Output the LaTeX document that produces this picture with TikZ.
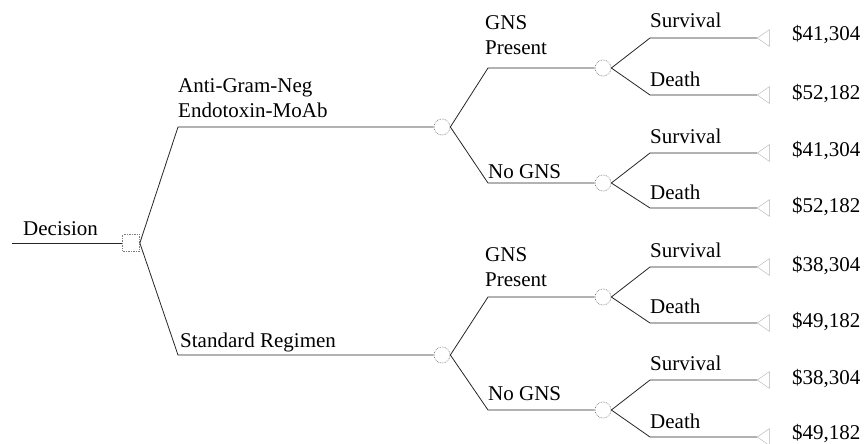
\documentclass[tikz,border=0pt]{standalone}
\usepackage{fontspec}
\setmainfont{Liberation Serif}
\usetikzlibrary{shapes.geometric}
\tikzset{
  decbox/.style={draw=gray,densely dotted,line width=0.7pt,minimum size=17pt,inner sep=0},
  chance/.style={circle,draw=gray,densely dotted,line width=0.7pt,minimum size=16pt,inner sep=0},
  endnode/.style={isosceles triangle,shape border rotate=180,isosceles triangle apex angle=70,
    draw=gray!60,minimum height=12pt,minimum width=12pt,inner sep=0,anchor=apex},
  lbl/.style={anchor=base west,inner sep=0,font=\fontsize{21}{25}\selectfont},
  lbltwo/.style={anchor=south west,inner sep=0,align=left,font=\fontsize{21}{25}\selectfont},
  branch/.style={draw=black!85,line width=0.8pt}
}

\begin{document}
\begin{tikzpicture}[x=1pt,y=-1pt]
\useasboundingbox (0,0) rectangle (864,444);
\coordinate (start) at (12,243);
\coordinate (k1) at (178,0);
\coordinate (k2) at (488,0);
\coordinate (k3) at (650,0);
\node[decbox] (dec) at (131,243) {};
\node[chance] (c1) at (442,127) {};
\node[chance] (c2) at (442,355) {};
\node[chance] (c11) at (603,68) {};
\node[chance] (c12) at (603,183) {};
\node[chance] (c21) at (603,297) {};
\node[chance] (c22) at (603,410) {};
\node[endnode] (t1) at (757,38) {};
\node[endnode] (t2) at (757,95) {};
\node[endnode] (t3) at (757,153) {};
\node[endnode] (t4) at (757,208) {};
\node[endnode] (t5) at (757,267) {};
\node[endnode] (t6) at (757,323) {};
\node[endnode] (t7) at (757,380) {};
\node[endnode] (t8) at (757,437) {};
\draw[branch] (start) -- (dec.west);
\draw[branch] (dec.east) -- (k1 |- c1) -- (c1.west);
\draw[branch] (dec.east) -- (k1 |- c2) -- (c2.west);
\draw[branch] (c1.east) -- (k2 |- c11) -- (c11.west);
\draw[branch] (c1.east) -- (k2 |- c12) -- (c12.west);
\draw[branch] (c2.east) -- (k2 |- c21) -- (c21.west);
\draw[branch] (c2.east) -- (k2 |- c22) -- (c22.west);
\draw[branch] (c11.east) -- (k3 |- t1.apex) -- (t1.apex);
\draw[branch] (c11.east) -- (k3 |- t2.apex) -- (t2.apex);
\draw[branch] (c12.east) -- (k3 |- t3.apex) -- (t3.apex);
\draw[branch] (c12.east) -- (k3 |- t4.apex) -- (t4.apex);
\draw[branch] (c21.east) -- (k3 |- t5.apex) -- (t5.apex);
\draw[branch] (c21.east) -- (k3 |- t6.apex) -- (t6.apex);
\draw[branch] (c22.east) -- (k3 |- t7.apex) -- (t7.apex);
\draw[branch] (c22.east) -- (k3 |- t8.apex) -- (t8.apex);
\node[lbl] (ldec) at (23,235) {Decision};
\node[lbltwo] (lanti) at (178,118) {Anti-Gram-Neg\\Endotoxin-MoAb};
\node[lbl] (lstd) at (180,347) {Standard Regimen};
\node[lbltwo] (lgnsa) at (485,55) {GNS\\Present};
\node[lbl] (lnoa) at (488,178) {No GNS};
\node[lbltwo] (lgnsb) at (485,287) {GNS\\Present};
\node[lbl] (lnob) at (488,400) {No GNS};
\node[lbl] (ls1) at (650,28) {Survival};
\node[lbl] (ld1) at (650,86) {Death};
\node[lbl] (ls2) at (650,143) {Survival};
\node[lbl] (ld2) at (650,199) {Death};
\node[lbl] (ls3) at (650,257) {Survival};
\node[lbl] (ld3) at (650,313) {Death};
\node[lbl] (ls4) at (650,370) {Survival};
\node[lbl] (ld4) at (650,428) {Death};
\node[lbl] (m1) at (792,41) {\$41,304};
\node[lbl] (m2) at (792,99) {\$52,182};
\node[lbl] (m3) at (792,156) {\$41,304};
\node[lbl] (m4) at (792,212) {\$52,182};
\node[lbl] (m5) at (792,271) {\$38,304};
\node[lbl] (m6) at (792,327) {\$49,182};
\node[lbl] (m7) at (792,384) {\$38,304};
\node[lbl] (m8) at (792,439) {\$49,182};
\end{tikzpicture}
\end{document}
